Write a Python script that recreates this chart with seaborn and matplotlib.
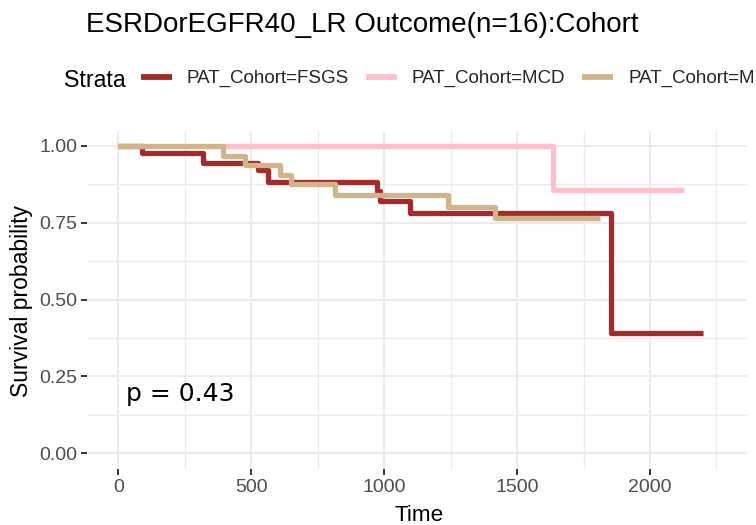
import numpy as np
import pandas as pd
import matplotlib
matplotlib.use("Agg")
import matplotlib.pyplot as plt
import seaborn as sns
from matplotlib.lines import Line2D
from matplotlib.ticker import MultipleLocator, FixedLocator

# ---------------- data ----------------
title = "ESRDorEGFR40_LR Outcome(n=16):Cohort"
strata = ["PAT_Cohort=FSGS", "PAT_Cohort=MCD", "PAT_Cohort=MN"]
colors = ["#A52A2A", "#FFC0CB", "#D2B48C"]

fsgs_time = [0, 88, 320, 527, 564, 972, 984, 1097, 1852, 2200]
fsgs_surv = [1.0, 0.976, 0.944, 0.922, 0.884, 0.852, 0.820, 0.783, 0.393, 0.393]

mcd_time = [0, 1634, 2128]
mcd_surv = [1.0, 0.857, 0.857]

mn_time = [0, 393, 477, 608, 648, 815, 1239, 1417, 1812]
mn_surv = [1.0, 0.967, 0.938, 0.906, 0.875, 0.841, 0.803, 0.765, 0.765]

x_ticks = [0, 500, 1000, 1500, 2000]
x_tick_labels = ["0", "500", "1000", "1500", "2000"]
y_ticks = [0.0, 0.25, 0.5, 0.75, 1.0]
y_tick_labels = ["0.00", "0.25", "0.50", "0.75", "1.00"]
p_text = "p = 0.43"

# ---------------- frame ----------------
df = pd.concat([
    pd.DataFrame({"time": fsgs_time, "surv": fsgs_surv, "strata": strata[0]}),
    pd.DataFrame({"time": mcd_time, "surv": mcd_surv, "strata": strata[1]}),
    pd.DataFrame({"time": mn_time, "surv": mn_surv, "strata": strata[2]}),
], ignore_index=True)

sns.set_theme(style="white")
plt.rcParams["font.family"] = ["Liberation Sans", "DejaVu Sans"]

W, H = 756, 525
fig = plt.figure(figsize=(W / 100, H / 100), dpi=100)
L, R, T, B = 87.3, 746.7, 130.6, 468.7
ax = fig.add_axes([L / W, 1 - B / H, (R - L) / W, (B - T) / H])

sns.lineplot(data=df, x="time", y="surv", hue="strata", hue_order=strata,
             palette=dict(zip(strata, colors)), estimator=None, sort=False,
             drawstyle="steps-post", linewidth=3.8, legend=False, ax=ax)
for ln in ax.get_lines():
    ln.set_solid_joinstyle("round")
    ln.set_solid_capstyle("butt")

ax.set_xlim(-117, 2364)
ax.set_ylim(-0.05, 1.05)

ax.xaxis.set_major_locator(FixedLocator(x_ticks))
ax.set_xticklabels(x_tick_labels)
ax.xaxis.set_minor_locator(MultipleLocator(250))
ax.yaxis.set_major_locator(FixedLocator(y_ticks))
ax.set_yticklabels(y_tick_labels)
ax.yaxis.set_minor_locator(MultipleLocator(0.125))

ax.grid(which="major", color="#EBEBEB", linewidth=1.45)
ax.grid(which="minor", color="#EBEBEB", linewidth=0.95)
ax.set_axisbelow(True)
for s in ax.spines.values():
    s.set_visible(False)

ax.tick_params(which="major", bottom=True, left=True, length=4, width=1.1,
               color="black", direction="out", labelsize=14,
               labelcolor="#4D4D4D")
ax.tick_params(axis="x", which="major", pad=3.6)
ax.tick_params(axis="y", which="major", pad=3.4)
ax.tick_params(which="minor", length=0)

ax.set_xlabel("Time", fontsize=16.2, color="black")
ax.xaxis.set_label_coords(0.503, (B - 521) / (B - T))
ax.xaxis.label.set_va("baseline")
ax.set_ylabel("Survival probability", fontsize=16.5, color="black")
ax.yaxis.set_label_coords((33.5 - L) / (R - L), 0.496)

ax.text(30, 0.171, p_text, fontsize=18, family="DejaVu Sans",
        ha="left", va="baseline", color="black")

fig.text(86 / W, 1 - 31.7 / H, title, fontsize=20, ha="left",
         va="baseline", color="black")

fig.text(64 / W, 1 - 87 / H, "Strata", fontsize=16.7, ha="left",
         va="baseline", color="black")
handles = [Line2D([], [], color=c, linewidth=4.2, solid_capstyle="butt")
           for c in colors]
fig.legend(handles, strata, loc="center left",
           bbox_to_anchor=(140.7 / W, 1 - 78.7 / H), ncol=3, frameon=False,
           fontsize=13.5, handlelength=1.65, handletextpad=0.8,
           columnspacing=0.9, borderpad=0, borderaxespad=0)

fig.savefig("out.png", dpi=100)
